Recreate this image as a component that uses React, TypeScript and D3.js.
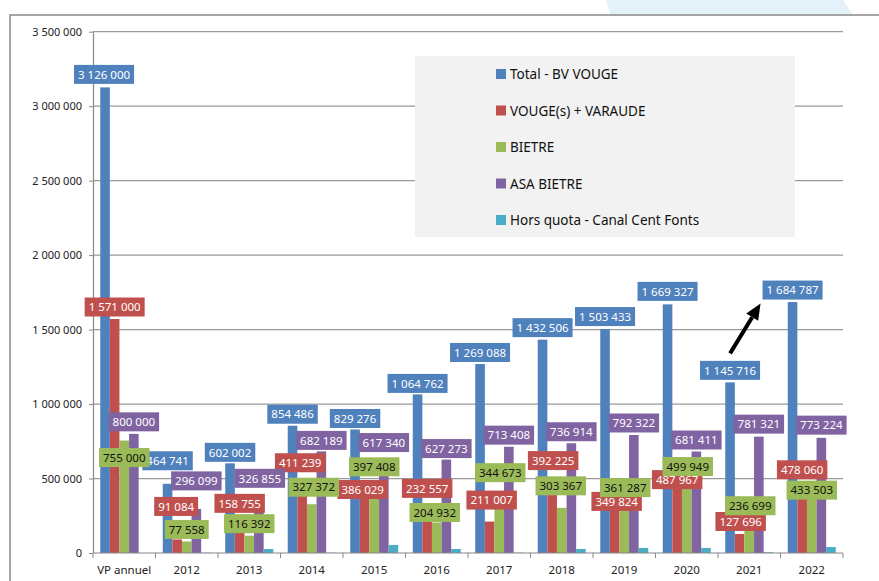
import React, { useEffect, useRef } from 'react';
import * as d3 from 'd3';

// catégories et séries
const categories = ['VP annuel', '2012', '2013', '2014', '2015', '2016', '2017', '2018', '2019', '2020', '2021', '2022'];
const seriesNames = ['Total - BV VOUGE', 'VOUGE(s) + VARAUDE', 'BIETRE', 'ASA BIETRE', 'Hors quota - Canal Cent Fonts'];
const totalBV = [3126000, 464741, 602002, 854486, 829276, 1064762, 1269088, 1432506, 1503433, 1669327, 1145716, 1684787];
const vougeVaraude = [1571000, 91084, 158755, 411239, 386029, 232557, 211007, 392225, 349824, 487967, 127696, 478060];
const bietre = [755000, 77558, 116392, 327372, 397408, 204932, 344673, 303367, 361287, 499949, 236699, 433503];
const asaBietre = [800000, 296099, 326855, 682189, 617340, 627273, 713408, 736914, 792322, 681411, 781321, 773224];
const horsQuota = [0, 2000, 27000, 2000, 54000, 27000, 2000, 27000, 34000, 34000, 5000, 40000];
const yTicks = [0, 500000, 1000000, 1500000, 2000000, 2500000, 3000000, 3500000];

const COLORS = ['#4f81bd', '#c0504d', '#9bbb59', '#8064a2', '#4bacc6'];
const LABEL_TEXT = ['#fff', '#fff', '#111', '#fff'];

// décalages manuels des étiquettes (px, par rapport au haut de la barre)
const LABEL_DY = [
  [-13, -23, -11, -11.5, -11, -11, -11.5, -12, -12.5, -13, -12, -12],
  [-12, -33, -26, -29, -6, -30, -21.5, -34, 0.5, -0.7, -12.5, -12],
  [17, -12, -12, -17, -27, -10, -29, -22, -11.6, -12, -12, 1.7],
  [-12, -28, -26, -11, -18.5, -11, -11.6, -11.5, -12, -11.5, -12.5, -12.7]
];
const LABEL_DX = [
  [-1, 0, 0, 0, 0, 0, 0, 0, 0, 0, 0, 0],
  [0, -1, 0, -2, -2, 0, 2, 1, 2, 0, 1, 0],
  [0, 0, 0, 2, 0, -2, 1, -1, 1, 1, 1, 0],
  [0, 0, 1, 0, 0, 0, 0, 0, 0, 0, 0, 0]
];

const W = 879, H = 581;
const FONT = '"Noto Sans", "Open Sans", sans-serif';

export default function App() {
  const svgRef = useRef<SVGSVGElement>(null);

  useEffect(() => {
    const svg = d3.select(svgRef.current);
    svg.selectAll('*').remove();

    const allSeries = [totalBV, vougeVaraude, bietre, asaBietre, horsQuota];
    const left = 93, right = 843, top = 31.7, bottom = 553;

    const x = d3.scaleBand().domain(categories).range([left, right]).padding(0);
    const xs = d3.scaleBand().domain(seriesNames)
      .range([7.25, x.bandwidth() - 7.25]).padding(0);
    const y = d3.scaleLinear().domain([0, 3500000]).range([bottom, top]);
    const fmt = (v: number) => d3.format(',')(v).replace(/,/g, ' ');

    // fond décoratif + cadre
    svg.append('path')
      .attr('d', 'M606,0 L843,0 L853,15 L611,15 Z')
      .attr('fill', '#e3f2f9');
    svg.append('path')
      .attr('d', `M10,${H} L10,15 L${W},15`)
      .attr('fill', 'none').attr('stroke', '#888').attr('stroke-width', 1.5);

    // grille
    svg.append('g').selectAll('line')
      .data(yTicks.filter(d => d > 0))
      .join('line')
        .attr('x1', left).attr('x2', right)
        .attr('y1', d => y(d)).attr('y2', d => y(d))
        .attr('stroke', '#9a9a9a').attr('stroke-width', 1.2);

    // axe Y
    const yAxis = svg.append('g')
      .attr('transform', `translate(${left},0)`)
      .call(d3.axisLeft(y).tickValues(yTicks).tickFormat(d => fmt(+d)).tickSizeInner(4).tickSizeOuter(0).tickPadding(7));
    yAxis.select('.domain').attr('stroke', '#888').attr('stroke-width', 1.2);
    yAxis.selectAll('line').attr('stroke', '#888');
    yAxis.selectAll('text').attr('font-family', FONT).attr('font-size', 11).attr('fill', '#222');

    // barres
    allSeries.forEach((vals, si) => {
      svg.append('g').selectAll('rect')
        .data(vals.map((v, i) => ({ v, c: categories[i] })))
        .join('rect')
          .attr('x', d => (x(d.c) as number) + (xs(seriesNames[si]) as number))
          .attr('width', xs.bandwidth())
          .attr('y', d => y(d.v))
          .attr('height', d => y(0) - y(d.v))
          .attr('fill', COLORS[si]);
    });

    // axe X
    const xAxis = svg.append('g').attr('transform', `translate(0,${bottom})`);
    xAxis.append('line')
      .attr('x1', left).attr('x2', right)
      .attr('stroke', '#888').attr('stroke-width', 1.2);
    xAxis.selectAll('.tk')
      .data(d3.range(categories.length + 1))
      .join('line')
        .attr('class', 'tk')
        .attr('x1', i => left + i * x.step()).attr('x2', i => left + i * x.step())
        .attr('y1', 0).attr('y2', 5)
        .attr('stroke', '#888');
    xAxis.selectAll('text')
      .data(categories)
      .join('text')
        .attr('x', d => (x(d) as number) + x.bandwidth() / 2)
        .attr('y', 21)
        .attr('text-anchor', 'middle')
        .attr('font-family', FONT).attr('font-size', 11.5).attr('fill', '#222')
        .text(d => d);

    // étiquettes de données
    [totalBV, vougeVaraude, bietre, asaBietre].forEach((vals, si) => {
      const g = svg.append('g');
      vals.forEach((v, i) => {
        const cx = (x(categories[i]) as number) + (xs(seriesNames[si]) as number) + xs.bandwidth() / 2 + LABEL_DX[si][i];
        const cy = y(v) + LABEL_DY[si][i];
        const lg = g.append('g');
        const rect = lg.append('rect').attr('fill', COLORS[si]);
        const t = lg.append('text')
          .attr('x', cx).attr('y', cy + 4.2)
          .attr('text-anchor', 'middle')
          .attr('font-family', FONT).attr('font-size', 11.5)
          .attr('fill', LABEL_TEXT[si])
          .text(fmt(v));
        const bw = (t.node() as SVGTextElement).getComputedTextLength() + 8;
        rect.attr('x', cx - bw / 2).attr('y', cy - 9.5).attr('width', bw).attr('height', 19);
      });
    });

    // flèche 2021 -> 2022
    const ax0 = (x('2021') as number) + (xs(seriesNames[0]) as number) + xs.bandwidth() / 2;
    const ay0 = y(totalBV[10]) - 29;
    const ax1 = (x('2022') as number) + (xs(seriesNames[0]) as number) + xs.bandwidth() / 2 - 32;
    const ay1 = y(totalBV[11]) + 1.5;
    const ang = Math.atan2(ay1 - ay0, ax1 - ax0);
    const hl = 16, hw = 7;
    const bx = ax1 - hl * Math.cos(ang), by = ay1 - hl * Math.sin(ang);
    svg.append('line')
      .attr('x1', ax0).attr('y1', ay0).attr('x2', bx).attr('y2', by)
      .attr('stroke', '#000').attr('stroke-width', 4);
    svg.append('path')
      .attr('d', `M${ax1},${ay1} L${bx + hw * Math.sin(ang)},${by - hw * Math.cos(ang)} L${bx - hw * Math.sin(ang)},${by + hw * Math.cos(ang)} Z`)
      .attr('fill', '#000');

    // légende
    const leg = svg.append('g');
    leg.append('rect')
      .attr('x', 415).attr('y', 56).attr('width', 380).attr('height', 181)
      .attr('fill', '#f2f2f2');
    seriesNames.forEach((name, i) => {
      const cy = 74 + i * 36.5;
      leg.append('rect')
        .attr('x', 496).attr('y', cy - 5).attr('width', 10).attr('height', 10)
        .attr('fill', COLORS[i]);
      leg.append('text')
        .attr('x', 510).attr('y', cy + 5)
        .attr('font-family', FONT).attr('font-size', 13.5).attr('fill', '#111')
        .text(name);
    });
  }, []);

  return (
    <svg ref={svgRef} width={W} height={H}
      style={{ position: 'absolute', left: 0, top: 0, background: '#fff' }} />
  );
}
